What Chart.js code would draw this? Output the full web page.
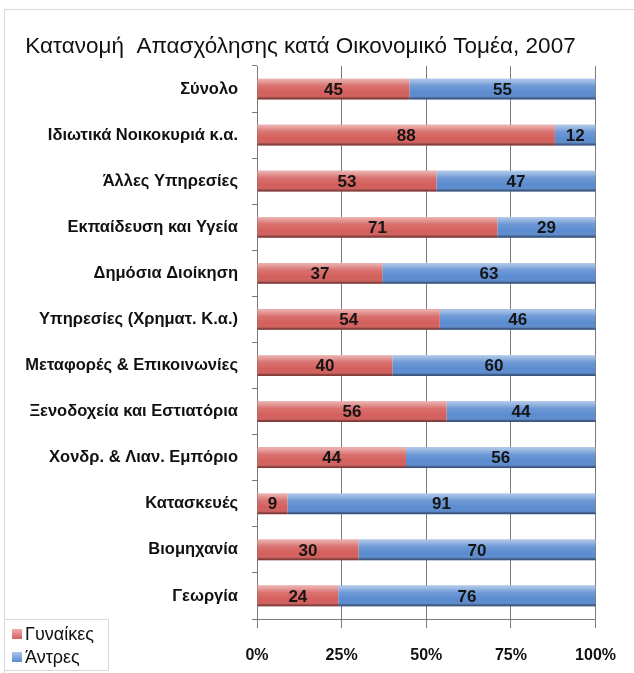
<!DOCTYPE html>
<html>
<head>
<meta charset="utf-8">
<script src="https://cdn.jsdelivr.net/npm/chart.js@4"></script>
<style>
  html, body { margin: 0; padding: 0; background: #fff; }
  #wrap { width: 634px; height: 673px; position: relative; }
</style>
</head>
<body>
<div id="wrap"><canvas id="barChart"></canvas></div>
<script>
// categories top to bottom
const sectors = [
    'Σύνολο',
    'Ιδιωτικά Νοικοκυριά κ.α.',
    'Άλλες Υπηρεσίες',
    'Εκπαίδευση και Υγεία',
    'Δημόσια Διοίκηση',
    'Υπηρεσίες (Χρηματ. Κ.α.)',
    'Μεταφορές & Επικοινωνίες',
    'Ξενοδοχεία και Εστιατόρια',
    'Χονδρ. & Λιαν. Εμπόριο',
    'Κατασκευές',
    'Βιομηχανία',
    'Γεωργία'
];
const women = [45, 88, 53, 71, 37, 54, 40, 56, 44, 9, 30, 24];   // Γυναίκες
const men   = [55, 12, 47, 29, 63, 46, 60, 44, 56, 91, 70, 76];  // Άντρες
const xTicks = [0, 25, 50, 75, 100];

const seriesColors = ['#D45E5B', '#5A8BD0'];
const gridColor = '#7a7a7a';

// outer frame of the chart
const framePlugin = {
    id: 'frame',
    beforeDraw(chart) {
        const ctx = chart.ctx;
        ctx.save();
        ctx.strokeStyle = '#d9d9d9';
        ctx.lineWidth = 1;
        ctx.strokeRect(4.5, 9.5, chart.width - 4, chart.height - 8);
        ctx.restore();
    }
};

// bevel look + value labels on every segment
const barLabelPlugin = {
    id: 'barLabels',
    afterDatasetsDraw(chart) {
        const ctx = chart.ctx;
        chart.data.datasets.forEach((ds, i) => {
            chart.getDatasetMeta(i).data.forEach((bar, j) => {
                const left = Math.min(bar.x, bar.base);
                const w = Math.abs(bar.x - bar.base);
                const top = bar.y - bar.height / 2;
                const h = bar.height;
                ctx.save();
                const g = ctx.createLinearGradient(0, top, 0, top + h);
                g.addColorStop(0, 'rgba(255,255,255,0.55)');
                g.addColorStop(0.35, 'rgba(255,255,255,0.12)');
                g.addColorStop(0.7, 'rgba(255,255,255,0)');
                g.addColorStop(1, 'rgba(0,0,0,0.22)');
                ctx.fillStyle = g;
                ctx.fillRect(left, top, w, h);
                ctx.fillStyle = 'rgba(0,0,0,0.25)';
                ctx.fillRect(left, top + h - 2, w, 2);
                ctx.restore();

                ctx.save();
                ctx.font = 'bold 17px "Liberation Sans", Arial, sans-serif';
                ctx.fillStyle = '#151515';
                ctx.textAlign = 'center';
                ctx.textBaseline = 'middle';
                ctx.fillText(ds.data[j], left + w / 2, bar.y + 1);
                ctx.restore();
            });
        });
    }
};

// legend box at bottom-left, items stacked
const legendPlugin = {
    id: 'boxLegend',
    afterDraw(chart) {
        const ctx = chart.ctx;
        ctx.save();
        ctx.strokeStyle = '#d9d9d9';
        ctx.lineWidth = 1;
        ctx.strokeRect(4.5, 619.5, 104, 51);
        chart.data.datasets.forEach((ds, i) => {
            const y = 634 + i * 23;
            const g = ctx.createLinearGradient(0, y - 5, 0, y + 5);
            g.addColorStop(0, 'rgba(255,255,255,0.5)');
            g.addColorStop(1, 'rgba(255,255,255,0)');
            ctx.fillStyle = ds.backgroundColor;
            ctx.fillRect(12, y - 5, 10, 10);
            ctx.fillStyle = g;
            ctx.fillRect(12, y - 5, 10, 10);
            ctx.font = '18px "Liberation Sans", Arial, sans-serif';
            ctx.fillStyle = '#111';
            ctx.textBaseline = 'middle';
            ctx.textAlign = 'left';
            ctx.fillText(ds.label, 25, y + 1);
        });
        ctx.restore();
    }
};

const barChart = new Chart(document.getElementById('barChart'), {
    type: 'bar',
    data: {
        labels: sectors,
        datasets: [
            {
                label: 'Γυναίκες',
                data: women,
                backgroundColor: seriesColors[0],
                borderWidth: 0,
                barPercentage: 0.45,
                categoryPercentage: 1
            },
            {
                label: 'Άντρες',
                data: men,
                backgroundColor: seriesColors[1],
                borderWidth: 0,
                barPercentage: 0.45,
                categoryPercentage: 1
            }
        ]
    },
    options: {
        indexAxis: 'y',
        responsive: true,
        maintainAspectRatio: false,
        animation: false,
        layout: {
            padding: { top: 18, right: 38, bottom: 0, left: 5 }
        },
        scales: {
            x: {
                stacked: true,
                min: 0,
                max: 100,
                afterBuildTicks: (s) => { s.ticks = xTicks.map(v => ({ value: v })); },
                afterFit: (s) => { s.height = 54; },
                ticks: {
                    callback: (v) => v + '%',
                    color: '#111',
                    padding: 18,
                    font: { family: '"Liberation Sans", Arial, sans-serif', size: 16, weight: 'bold' }
                },
                grid: {
                    display: true,
                    color: gridColor,
                    lineWidth: 1,
                    tickLength: 9,
                    drawOnChartArea: true
                },
                border: { color: gridColor }
            },
            y: {
                stacked: true,
                afterFit: (s) => { s.width = 252; },
                ticks: {
                    color: '#111',
                    padding: 14,
                    font: { family: '"Liberation Sans", Arial, sans-serif', size: 16.5, weight: 'bold' }
                },
                grid: {
                    offset: true,
                    drawOnChartArea: false,
                    tickLength: 5,
                    color: gridColor
                },
                border: { color: gridColor }
            }
        },
        plugins: {
            title: {
                display: true,
                text: 'Κατανομή  Απασχόλησης κατά Οικονομικό Τομέα, 2007',
                color: '#111',
                font: { family: '"Liberation Sans", Arial, sans-serif', size: 22.5, weight: 'normal' },
                padding: { top: 15, bottom: 6 }
            },
            legend: { display: false },
            tooltip: { enabled: false }
        }
    },
    plugins: [framePlugin, barLabelPlugin, legendPlugin]
});
</script>
</body>
</html>
